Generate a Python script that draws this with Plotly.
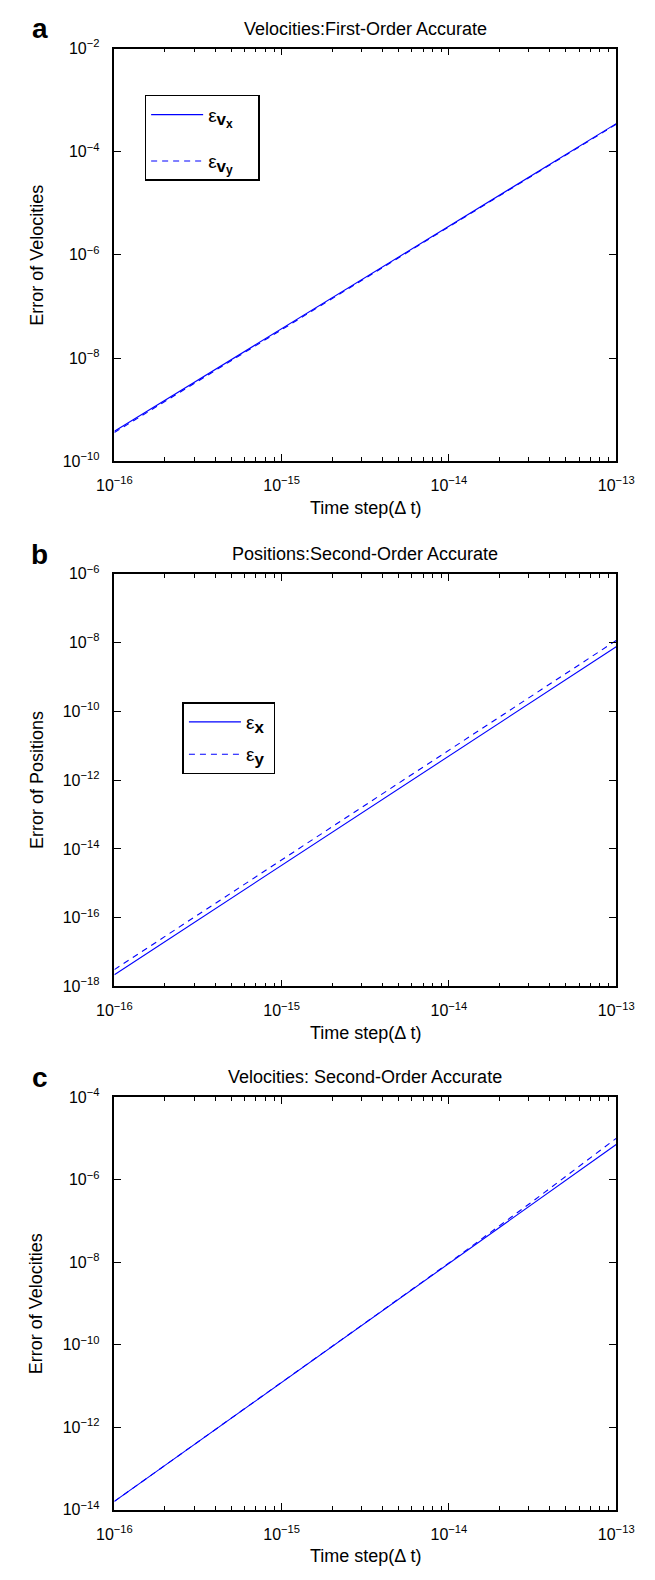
import math
import plotly.graph_objects as go

# ---------------- data ----------------
dt = [1e-16, 1e-15, 1e-14, 1e-13]

# panel a: velocities, first-order accurate
err_vx_a = [3.8e-10, 3.7e-8, 3.6e-6, 3.5e-4]
err_vy_a = [3.6e-10, 3.6e-8, 3.5e-6, 3.4e-4]

# panel b: positions, second-order accurate
err_x_b = [2.2e-18, 3.3e-15, 5.0e-12, 7.6e-9]
err_y_b = [3.1e-18, 4.8e-15, 7.4e-12, 1.15e-8]

# panel c: velocities, second-order accurate
dt_c = [1e-16, 1e-15, 3.16e-15, 1e-14, 3.16e-14, 1e-13]
err_vx_c = [1.6e-14, 1.2e-11, 3.35e-10, 9.3e-9, 2.57e-7, 7.1e-6]
err_vy_c = [1.6e-14, 1.2e-11, 3.4e-10, 9.6e-9, 2.95e-7, 1.0e-5]

x_ticks = [1e-16, 1e-15, 1e-14, 1e-13]
y_ticks_a = [1e-10, 1e-8, 1e-6, 1e-4, 1e-2]
y_ticks_b = [1e-18, 1e-16, 1e-14, 1e-12, 1e-10, 1e-8, 1e-6]
y_ticks_c = [1e-14, 1e-12, 1e-10, 1e-8, 1e-6, 1e-4]

titles = ["Velocities:First-Order Accurate", "Positions:Second-Order Accurate",
          "Velocities: Second-Order Accurate"]
ylabels = ["Error of Velocities", "Error of Positions", "Error of Velocities"]
xlabel = "Time step(Δ t)"
letters = ["a", "b", "c"]
legend_names = [
    ("ε", "v", "x"), ("ε", "v", "y"),   # panel a
    ("ε", "x", None), ("ε", "y", None),  # panel b
]

# ---------------- layout geometry (pixels) ----------------
W, H = 655, 1580
left, right = 102, 633
panels = [(38, 456), (570, 988), (1100, 1518)]   # (top, bottom)
yranges = [(-10, -2), (-18, -6), (-14, -4)]


def py(y):
    return 1 - y / H


def lbl(v):
    e = int(round(math.log10(v)))
    return "10<sup>−%d</sup>" % (-e)


def legname(parts, pad):
    eps, s1, s2 = parts
    txt = "<span style='font-size:19px'>%s</span><sub><span style='font-size:17px'><b>%s</b></span>" % (eps, s1)
    if s2:
        txt += "<sub><span style='font-size:12px'><b>%s</b></span></sub>" % s2
    txt += "</sub>" + "\u00a0" * pad
    return txt


FONT = "Liberation Sans, Arial, sans-serif"
BLUE = "rgb(0,0,255)"
DASH = "6px,5px"

fig = go.Figure()

traces = [
    (dt, err_vx_a, "solid", legname(legend_names[0], 4), "legend", 1),
    (dt, err_vy_a, "dash", legname(legend_names[1], 4), "legend", 1),
    (dt, err_x_b, "solid", legname(legend_names[2], 1), "legend2", 2),
    (dt, err_y_b, "dash", legname(legend_names[3], 1), "legend2", 2),
    (dt_c, err_vx_c, "solid", "ε vx", None, 3),
    (dt_c, err_vy_c, "dash", "ε vy", None, 3),
]
for i, (xs, ys, dash, name, leg, p) in enumerate(traces):
    ax = "" if p == 1 else str(p)
    fig.add_trace(go.Scatter(
        x=xs, y=ys, mode="lines", name=name,
        line=dict(color=BLUE, width=1.1, dash=DASH if dash == "dash" else "solid"),
        xaxis="x" + ax, yaxis="y" + ax,
        showlegend=leg is not None,
        legend=leg if leg else "legend",
        legendgroup="g%d" % i,
    ))

layout = dict(
    width=W, height=H, margin=dict(l=0, r=0, t=0, b=0),
    paper_bgcolor="white", plot_bgcolor="white",
    font=dict(family=FONT, size=16, color="black"),
    showlegend=True,
)

yticks_all = [y_ticks_a, y_ticks_b, y_ticks_c]
annotations = []
cx = (left + right) / 2 / W
for k in range(3):
    top, bot = panels[k]
    sfx = "" if k == 0 else str(k + 1)
    layout["xaxis" + sfx] = dict(
        type="log", range=[-16, -13], domain=[left / W, right / W],
        anchor="y" + sfx, showline=True, linecolor="black", linewidth=1.5,
        mirror="allticks", ticks="inside", ticklen=7, tickcolor="black",
        tickvals=x_ticks, ticktext=[lbl(v) for v in x_ticks], tickfont=dict(size=16),
        ticklabelstandoff=9,
        showgrid=False, zeroline=False,
        minor=dict(ticks="inside", ticklen=4, dtick="D1", tickcolor="black", showgrid=False),
    )
    layout["yaxis" + sfx] = dict(
        type="log", range=list(yranges[k]), domain=[py(bot), py(top)],
        anchor="x" + sfx, showline=True, linecolor="black", linewidth=1.5,
        mirror="allticks", ticks="inside", ticklen=7, tickcolor="black",
        tickvals=yticks_all[k], ticktext=[lbl(v) for v in yticks_all[k]],
        tickfont=dict(size=16), ticklabelstandoff=10,
        showgrid=False, zeroline=False,
    )
    annotations.append(dict(text=titles[k], x=cx, y=py(top - 20), xref="paper", yref="paper",
                            showarrow=False, font=dict(size=18), xanchor="center", yanchor="middle"))
    annotations.append(dict(text="<b>%s</b>" % letters[k], x=23 / W, y=py(top - 20), xref="paper",
                            yref="paper", showarrow=False, font=dict(size=28),
                            xanchor="center", yanchor="middle"))
    annotations.append(dict(text=ylabels[k], x=20 / W, y=py((top + bot) / 2), xref="paper", yref="paper",
                            showarrow=False, textangle=-90, font=dict(size=18),
                            xanchor="center", yanchor="middle"))
    annotations.append(dict(text=xlabel, x=cx, y=py(bot + 47), xref="paper", yref="paper",
                            showarrow=False, font=dict(size=18), xanchor="center", yanchor="middle"))
layout["annotations"] = annotations

layout["legend"] = dict(x=134 / W, y=py(85), xanchor="left", yanchor="top",
                        bordercolor="black", borderwidth=1.5, bgcolor="white",
                        font=dict(size=18), tracegroupgap=20, itemwidth=52)
layout["legend2"] = dict(x=174 / W, y=py(700), xanchor="left", yanchor="top",
                         bordercolor="black", borderwidth=1.5, bgcolor="white",
                         font=dict(size=18), tracegroupgap=6, itemwidth=52)

fig.update_layout(**layout)
fig.write_html("out.html", config={"displayModeBar": False},
               post_script="document.body.style.margin='0px';document.body.style.overflow='hidden';")
